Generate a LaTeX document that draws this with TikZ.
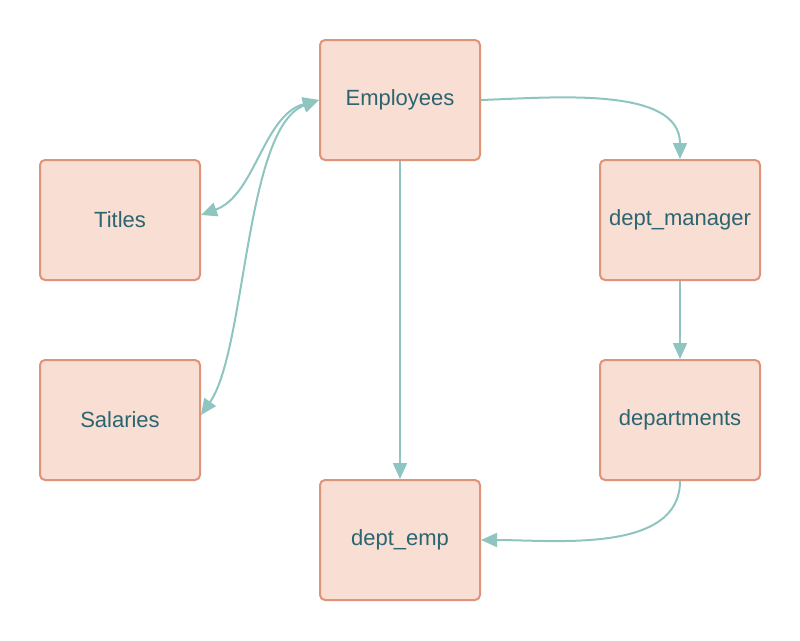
\documentclass[tikz,border=0pt]{standalone}
\usepackage{fontspec}
\setmainfont{Liberation Sans}
\usetikzlibrary{arrows.meta,positioning}
\definecolor{boxfill}{HTML}{F9DED3}
\definecolor{boxline}{HTML}{DE9478}
\definecolor{boxtext}{HTML}{2A6571}
\definecolor{link}{HTML}{8FC5C0}
\tikzset{
    table/.style={draw=boxline, fill=boxfill, line width=2pt, rounded corners=5pt,
      minimum width=160pt, minimum height=120pt, text=boxtext,
      font=\fontsize{22}{26}\selectfont},
    link/.style={draw=link, line width=2pt, -{Triangle[length=16pt,width=14pt]}},
    twoway/.style={link, {Triangle[length=16pt,width=14pt]}-{Triangle[length=16pt,width=14pt]}},
  }

\begin{document}
\begin{tikzpicture}[x=1pt,y=1pt]
    \useasboundingbox (0,0) rectangle (800,-640);

    \node[table] (emp) at (400,-100) {Employees};

    \node[table] (tit) at (120,-220) {Titles};
    \node[table, below=78pt of tit] (sal) {Salaries};

    \node[table] (dm) at (680,-220) {dept\_manager};
    \node[table, below=78pt of dm] (dep) {departments};

    \node[table, below=318pt of emp] (de) {dept\_emp};

    %% links
    \draw[twoway] ([yshift=5pt]tit.east) to[out=20,in=195,looseness=0.9] (emp.west);
    \draw[twoway] ([yshift=5pt]sal.east) to[out=55,in=200,looseness=0.6] (emp.west);
    \draw[link] (emp.east) to[out=2,in=90,looseness=0.9] (dm.north);
    \draw[link] (emp.south) -- (de.north);
    \draw[link] (dm.south) -- (dep.north);
    \draw[link] (dep.south) to[out=-90,in=0,looseness=0.9] (de.east);
  \end{tikzpicture}
\end{document}
